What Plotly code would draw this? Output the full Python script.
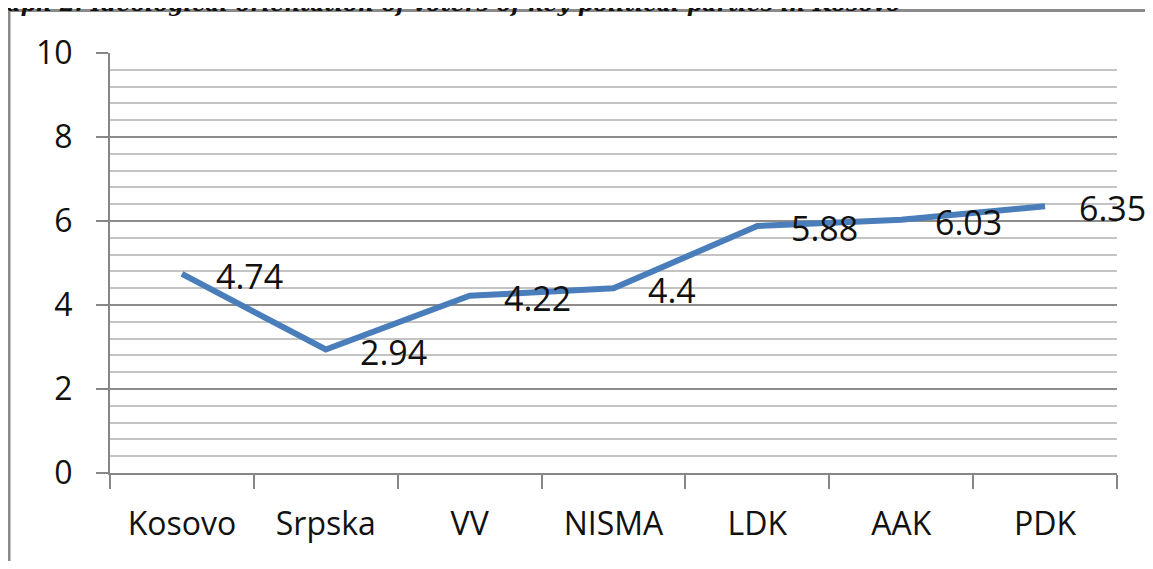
import plotly.graph_objects as go

categories = ["Kosovo", "Srpska", "VV", "NISMA", "LDK", "AAK", "PDK"]
values = [4.74, 2.94, 4.22, 4.4, 5.88, 6.03, 6.35]
value_labels = ["4.74", "2.94", "4.22", "4.4", "5.88", "6.03", "6.35"]
title_text = "Graph 2: Ideological orientation of voters of key political parties in Kosovo"

# page has an 8px body margin; the figure is sized to fit the window exactly
OFF = 8
W, H = 1153 - 2 * OFF, 569 - 2 * OFF
# plot area in page pixels: x 110..1117, y 53..473
L, T = 110 - OFF, 53 - OFF
R = W - (1117 - OFF)
B = H - (473 - OFF)
pw, ph = W - L - R, H - T - B

def page_x(px):
    return (px - OFF - L) / pw

def page_y(py):
    return (H - B - (py - OFF)) / ph

FONT = "Open Sans"

fig = go.Figure()
fig.add_trace(go.Scatter(
    x=categories, y=values, mode="lines",
    line=dict(color="#4a7ebb", width=6),
    hoverinfo="skip", showlegend=False,
))

for c, v, t in zip(categories, values, value_labels):
    fig.add_annotation(
        x=c, y=v, xref="x", yref="y", text=t, showarrow=False,
        xanchor="left", yanchor="middle", xshift=32, yshift=-2,
        font=dict(family=FONT, size=34, color="#111111"),
    )

# cut-off caption above the chart box
fig.add_annotation(
    x=page_x(903), y=page_y(18), xref="paper", yref="paper",
    text="<b><i>" + title_text + "</i></b>", showarrow=False,
    xanchor="right", yanchor="bottom",
    font=dict(family="DejaVu Serif", size=22, color="#111111"),
)

# outer chart border (top and left visible)
bx = page_x(9)
by = page_y(10.5)
fig.add_shape(type="line", xref="paper", yref="paper",
              x0=bx, x1=bx, y0=page_y(600), y1=by,
              line=dict(color="#8a8a8a", width=3))
fig.add_shape(type="line", xref="paper", yref="paper",
              x0=bx, x1=page_x(1200), y0=by, y1=by,
              line=dict(color="#8a8a8a", width=3))

fig.update_layout(
    width=W, height=H,
    margin=dict(l=L, r=R, t=T, b=B, autoexpand=False),
    paper_bgcolor="white", plot_bgcolor="white",
    font=dict(family=FONT, size=32, color="#111111"),
    xaxis=dict(
        type="category", tickson="boundaries", ticks="outside", ticklen=14,
        tickcolor="#868686", tickwidth=2, showgrid=False,
        showline=True, linecolor="#868686", linewidth=2,
        ticklabelstandoff=22, tickfont=dict(size=32), automargin=False,
        range=[-0.5, 6.5],
    ),
    yaxis=dict(
        range=[0, 10], dtick=2, tick0=0, ticks="outside", ticklen=12,
        tickcolor="#868686", tickwidth=2,
        showgrid=True, gridcolor="#8c8c8c", gridwidth=2,
        showline=True, linecolor="#868686", linewidth=2,
        zeroline=False, ticklabelstandoff=17, tickfont=dict(size=32),
        automargin=False,
        minor=dict(dtick=0.4, tick0=0, showgrid=True, gridcolor="#c4c4c4", gridwidth=2),
    ),
)

fig.write_html("out.html")
